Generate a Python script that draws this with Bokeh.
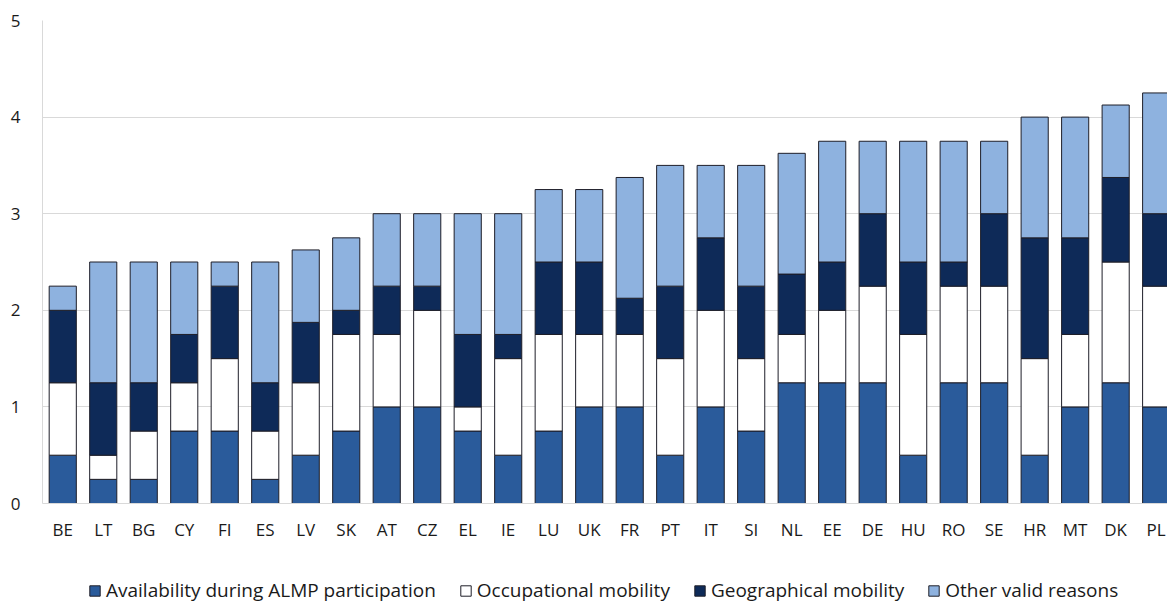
from bokeh.plotting import figure
from bokeh.layouts import column
from bokeh.models import ColumnDataSource, Range1d, FixedTicker, Legend, LegendItem
from bokeh.embed import file_html
from bokeh.resources import INLINE

countries = ["BE", "LT", "BG", "CY", "FI", "ES", "LV", "SK", "AT", "CZ", "EL", "IE", "LU", "UK",
             "FR", "PT", "IT", "SI", "NL", "EE", "DE", "HU", "RO", "SE", "HR", "MT", "DK", "PL"]
availability = [0.5, 0.25, 0.25, 0.75, 0.75, 0.25, 0.5, 0.75, 1.0, 1.0, 0.75, 0.5, 0.75, 1.0,
                1.0, 0.5, 1.0, 0.75, 1.25, 1.25, 1.25, 0.5, 1.25, 1.25, 0.5, 1.0, 1.25, 1.0]
occupational = [0.75, 0.25, 0.5, 0.5, 0.75, 0.5, 0.75, 1.0, 0.75, 1.0, 0.25, 1.0, 1.0, 0.75,
                0.75, 1.0, 1.0, 0.75, 0.5, 0.75, 1.0, 1.25, 1.0, 1.0, 1.0, 0.75, 1.25, 1.25]
geographical = [0.75, 0.75, 0.5, 0.5, 0.75, 0.5, 0.625, 0.25, 0.5, 0.25, 0.75, 0.25, 0.75, 0.75,
                0.375, 0.75, 0.75, 0.75, 0.625, 0.5, 0.75, 0.75, 0.25, 0.75, 1.25, 1.0, 0.875, 0.75]
other = [0.25, 1.25, 1.25, 0.75, 0.25, 1.25, 0.75, 0.75, 0.75, 0.75, 1.25, 1.25, 0.75, 0.75,
         1.25, 1.25, 0.75, 1.25, 1.25, 1.25, 0.75, 1.25, 1.25, 0.75, 1.25, 1.25, 0.75, 1.25]
series = ["availability", "occupational", "geographical", "other"]
labels = ["Availability during ALMP participation", "Occupational mobility",
          "Geographical mobility", "Other valid reasons"]
colors = ["#2A5B9B", "#FFFFFF", "#0E2A58", "#8EB2DF"]
yticks = [0, 1, 2, 3, 4, 5]

# category slots: each country at the centre of its unit slot
xpos = [i + 0.5 for i in range(len(countries))]

src = ColumnDataSource(dict(x=xpos, country=countries, availability=availability,
                            occupational=occupational, geographical=geographical, other=other))

FONT = "Open Sans"
EDGE = "#1E1E28"

# the original chart is cropped at the right edge, so the last slot is only partly visible
p = figure(x_range=Range1d(0, 27.78), y_range=Range1d(0, 5), width=1167, height=550,
           output_backend="svg", toolbar_location=None,
           min_border_left=42, min_border_right=0, min_border_top=20, min_border_bottom=47)

rs = p.vbar_stack(series, x="x", width=0.67, source=src, fill_color=colors,
                  line_color=EDGE, line_width=1)

p.outline_line_color = None
p.xgrid.grid_line_color = None
p.ygrid.grid_line_color = "#D9D9D9"
p.ygrid.grid_line_width = 1
p.yaxis.ticker = FixedTicker(ticks=yticks)
p.xaxis.ticker = FixedTicker(ticks=xpos)
p.xaxis.major_label_overrides = {x: c for x, c in zip(xpos, countries)}
p.yaxis.axis_line_color = "#D9D9D9"
p.xaxis.axis_line_color = "#D9D9D9"
for ax in (p.xaxis[0], p.yaxis[0]):
    ax.major_tick_line_color = None
    ax.minor_tick_line_color = None
    ax.major_label_text_font = FONT
    ax.major_label_text_font_size = "17px"
    ax.major_label_text_color = "#1A1A1A"
p.yaxis.major_label_standoff = 16
p.xaxis.major_label_standoff = 8

# legend strip below the chart (frame aligned with the chart's frame)
q = figure(width=1167, height=53, output_backend="svg", toolbar_location=None,
           x_range=Range1d(0, 1), y_range=Range1d(0, 1),
           x_axis_location=None, y_axis_location=None,
           min_border_left=0, min_border_right=0, min_border_top=0, min_border_bottom=0)
q.outline_line_color = None
q.xgrid.grid_line_color = None
q.ygrid.grid_line_color = None
dummies = [q.vbar(x=[-5], top=[-5], width=0.5, fill_color=c, line_color=EDGE, line_width=1)
           for c in colors]

legend = Legend(items=[LegendItem(label=l, renderers=[r]) for l, r in zip(labels, dummies)],
                orientation="horizontal", location=(46, 0),
                label_text_font=FONT, label_text_font_size="19px", label_text_color="#1A1A1A",
                glyph_width=13, glyph_height=13, label_standoff=5, spacing=23,
                padding=0, margin=0, border_line_color=None, background_fill_alpha=0)
q.add_layout(legend, "center")

layout = column(p, q, spacing=0)
open("out.html", "w").write(file_html(layout, INLINE))
